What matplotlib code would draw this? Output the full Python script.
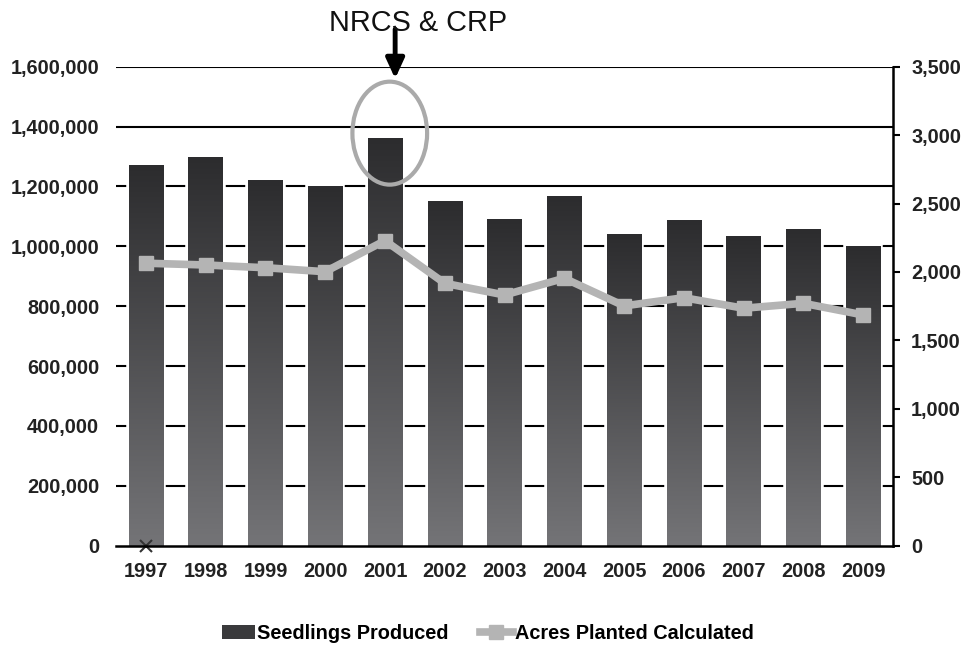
import matplotlib
matplotlib.use("Agg")
import matplotlib.pyplot as plt
import numpy as np
from matplotlib.patches import Ellipse
from matplotlib.colors import LinearSegmentedColormap
from matplotlib.lines import Line2D
from matplotlib.patches import Patch
from matplotlib.ticker import FuncFormatter

plt.rcParams['font.family'] = ['Liberation Sans', 'DejaVu Sans']

years = ['1997', '1998', '1999', '2000', '2001', '2002', '2003', '2004',
         '2005', '2006', '2007', '2008', '2009']
seedlings = [1270000, 1298000, 1220000, 1201000, 1360000, 1150000, 1090000,
             1166000, 1040000, 1086000, 1035000, 1058000, 1001000]
acres = [2064, 2051, 2031, 2002, 2229, 1917, 1832, 1954, 1752, 1812, 1735,
         1771, 1686]
left_ticks = [0, 200000, 400000, 600000, 800000, 1000000, 1200000, 1400000, 1600000]
right_ticks = [0, 500, 1000, 1500, 2000, 2500, 3000, 3500]
cross_year = '1997'
cross_value = 0

fig = plt.figure(figsize=(9.62, 6.45), dpi=100)
ax = fig.add_axes([0.1206, 0.154, 0.8077, 0.7426])
ax2 = ax.twinx()

x = np.arange(len(years))
fs = 14.3

ax.set_ylim(0, 1600000)
ax.set_xlim(-0.5, len(years) - 0.5)
ax.set_yticks(left_ticks)
for t in left_ticks[1:]:
    ax.axhline(t, color='black', lw=1.5, zorder=1)

cmap = LinearSegmentedColormap.from_list('g', ['#747477', '#2c2c2e'])
grad = np.linspace(0, 1, 256).reshape(-1, 1)
bars = ax.bar(x, seedlings, width=0.575, color='white', edgecolor='white',
              linewidth=4, zorder=2)
for b in bars:
    x0, w, h = b.get_x(), b.get_width(), b.get_height()
    ax.imshow(grad, extent=(x0, x0 + w, 0, h), origin='lower', cmap=cmap,
              aspect='auto', zorder=2.5, interpolation='bicubic')
ax.set_xlim(-0.5, len(years) - 0.5)
ax.set_ylim(0, 1600000)

ax.plot([years.index(cross_year)], [cross_value], marker='x', color='#333333',
        markersize=9, mew=1.5, zorder=4, clip_on=False)

ax.set_xticks(x)
ax.set_xticklabels(years)
ax.yaxis.set_major_formatter(FuncFormatter(lambda v, p: f'{int(v):,}'))
ax.tick_params(axis='y', length=0, pad=12, labelsize=fs)
ax.tick_params(axis='x', length=0, pad=12, labelsize=fs)
for lab in ax.get_xticklabels() + ax.get_yticklabels():
    lab.set_fontweight('bold')
    lab.set_color('#222222')
for s in ['left', 'top', 'right']:
    ax.spines[s].set_visible(False)
ax.spines['bottom'].set_linewidth(1.8)
ax.spines['bottom'].set_zorder(5)

ax2.plot(x, acres, color='#b4b4b4', lw=5.5, marker='s', markersize=10,
         zorder=5, solid_joinstyle='round')
ax2.set_ylim(0, 3500)
ax2.set_yticks(right_ticks)
ax2.yaxis.set_major_formatter(FuncFormatter(lambda v, p: f'{int(v):,}'))
ax2.tick_params(axis='y', length=5, width=1.5, pad=8, labelsize=fs,
                direction='out')
for lab in ax2.get_yticklabels():
    lab.set_fontweight('bold')
    lab.set_color('#222222')
for s in ['left', 'top', 'bottom']:
    ax2.spines[s].set_visible(False)
ax2.spines['right'].set_linewidth(1.8)

ell = Ellipse((4.08, 1378000), width=1.25, height=344000, fill=False,
              edgecolor='#aaaaaa', lw=3, zorder=6, clip_on=False)
ax.add_patch(ell)
ax.annotate('', xy=(4.17, 1560000), xytext=(4.17, 1725000),
            arrowprops=dict(arrowstyle='-|>,head_length=1.2,head_width=0.55',
                            color='black', lw=3.5, shrinkA=0, shrinkB=0),
            annotation_clip=False, zorder=7)
fig.text(0.4345, 0.965, 'NRCS & CRP', fontsize=20.8, ha='center', va='center',
         color='#111111')

handles = [Patch(facecolor='#3a3a3c', edgecolor='none'),
           Line2D([], [], color='#b4b4b4', lw=5.5, marker='s', markersize=10)]
fig.legend(handles, ['Seedlings Produced', 'Acres Planted Calculated'],
           loc='center', bbox_to_anchor=(0.507, 0.0186), ncol=2, frameon=False,
           prop={'size': 14.3, 'weight': 'bold'}, handlelength=1.65,
           handletextpad=0.1, columnspacing=1.6, handleheight=0.7)

fig.savefig('out.png', dpi=100)
